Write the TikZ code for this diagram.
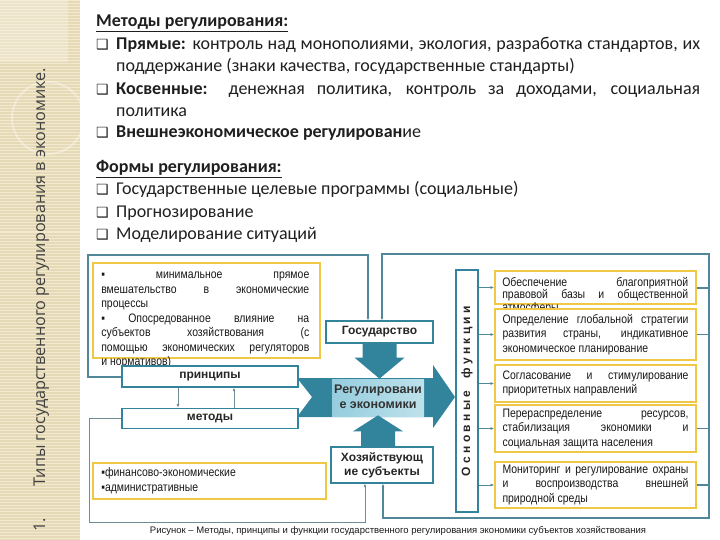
\documentclass[tikz,border=0pt]{standalone}
\usepackage{fontspec}
\setmainfont{Carlito}
\newfontfamily\arialfont{Liberation Sans}
\newfontfamily\narrowfont[FakeStretch=0.85]{Liberation Sans}
\newfontfamily\sidefont{Open Sans}
\newfontfamily\symfont{DejaVu Sans}
\usetikzlibrary{calc, positioning, arrows.meta}

\definecolor{tealdark}{RGB}{49,132,155}
\definecolor{teallight}{RGB}{190,226,236}
\definecolor{tealmid}{RGB}{150,205,222}
\definecolor{framegray}{RGB}{80,135,155}
\definecolor{thingray}{RGB}{110,140,150}
\definecolor{goldline}{RGB}{240,200,70}
\definecolor{stripbg}{RGB}{230,218,182}
\definecolor{stripline}{RGB}{241,233,208}

\newcommand{\chkbox}{\makebox[20pt][l]{\symfont\fontsize{14}{14}\selectfont ❑}}

\begin{document}
\begin{tikzpicture}
              [x=1pt, y=-1pt, node distance=20pt,
               toptext/.style={anchor=base west, inner sep=0pt, text=black!88, font=\fontsize{18}{20}\selectfont},
               box/.style={draw=tealdark, line width=1.3pt, fill=white, inner sep=0pt, align=center, text=black!85, font=\arialfont\bfseries\fontsize{12}{14}\selectfont},
               note/.style={draw=goldline, line width=1.8pt, fill=white, inner sep=0pt},
               notetext/.style={inner sep=0pt, text width=#1, align=justify, text=black!90, font=\narrowfont\fontsize{12.3}{14.5}\selectfont},
               frame/.style={draw=framegray, line width=1.5pt},
               thinframe/.style={draw=thingray, line width=0.8pt},
               tip/.style={-{Latex[length=3.5pt,width=3pt]}}]
              \useasboundingbox (0,0) rectangle (720,540);

              % side strip %
              \fill[stripbg] (0,0) rectangle (80,540);
              \foreach \y in {1,4,...,540}
                \draw[stripline, line width=1pt] (0,\y) -- (80,\y);
              \fill[white, opacity=0.25] (0,0) rectangle (68,62);
              \draw[white, opacity=0.35, line width=2pt] (48,118) circle (36);
              \node[anchor=base west, rotate=90, inner sep=0pt, text=black!75, font=\sidefont\fontsize{16.2}{17}\selectfont] (side) at (45,532)
                {1.\hspace{32pt}Типы государственного регулирования в экономике.};

              % top text %
              \node[toptext] (t1) at (96,27) {\textbf{\underline{Методы регулирования:}}};
              \node[toptext] (t2) at (96,50) {\chkbox\makebox[584pt][s]{\textbf{Прямые:} контроль над монополиями, экология, разработка стандартов, их}};
              \node[toptext] (t3) at (116,72) {поддержание (знаки качества, государственные стандарты)};
              \node[toptext] (t4) at (96,95) {\chkbox\makebox[584pt][s]{\textbf{Косвенные:} денежная политика, контроль за доходами, социальная}};
              \node[toptext] (t5) at (116,117) {политика};
              \node[toptext] (t6) at (96,138) {\chkbox\textbf{Внешнеэкономическое регулирован}ие};
              \node[toptext] (t7) at (96,173) {\textbf{\underline{Формы регулирования:}}};
              \node[toptext] (t8) at (96,195) {\chkbox Государственные целевые программы (социальные)};
              \node[toptext] (t9) at (96,218) {\chkbox Прогнозирование};
              \node[toptext] (t10) at (96,240) {\chkbox Моделирование ситуаций};

              % nodes %
              \node[note, minimum width=227pt, minimum height=95pt] (nb1) at (206.5,310.5) {};
              \node[notetext=208pt, anchor=north west] (nb1t) at ($(nb1.north west)+(9,10)$)
                {▪ минимальное прямое\linebreak вмешательство в экономические\linebreak процессы\par
                 ▪ Опосредованное влияние на\linebreak субъектов хозяйствования (с\linebreak помощью экономических регуляторов\linebreak и нормативов)};
              \node[box, minimum width=176pt, minimum height=21pt] (prin) at (210,376.5) {принципы};
              \node[box, minimum width=176pt, minimum height=20pt, below=20pt of prin] (met) {методы};
              \node[note, minimum width=233pt, minimum height=36pt] (nb2) at (209.5,481) {};
              \node[notetext=220pt, anchor=west, align=left] (nb2t) at ($(nb2.west)+(9,0)$)
                {▪финансово-экономические\\▪административные};

              % regulation arrow %
              \fill[tealdark] (297,378) -- (433,378) -- (433,365) -- (455,397) -- (433,428) -- (433,417)
                -- (297,417) -- (312,397) -- cycle;
              \shade[left color=tealmid, right color=teallight] (332,379) rectangle (424,416);
              \node[align=center, inner sep=0pt, text=black!80, font=\arialfont\bfseries\fontsize{12.5}{15}\selectfont] (reg) at (378,397)
                {Регулировани\\е экономики};

              \node[box, minimum width=107pt, minimum height=22pt] (gos) at (379.5,332) {Государство};
              \node[box, minimum width=102pt, minimum height=36pt] (hoz) at (382,465) {Хозяйствующ\\ие субъекты};
              \fill[tealdark] ($(gos.south)+(-17,0)$) -- ($(gos.south)+(17,0)$) -- ($(gos.south)+(17,14)$)
                -- ($(gos.south)+(25,14)$) -- ($(gos.south)+(0,35)$) -- ($(gos.south)+(-25,14)$)
                -- ($(gos.south)+(-17,14)$) -- cycle;
              \fill[tealdark] ($(hoz.north)+(-21,0)$) -- ($(hoz.north)+(13,0)$) -- ($(hoz.north)+(13,-15)$)
                -- ($(hoz.north)+(21,-15)$) -- ($(hoz.north)+(-4,-31)$) -- ($(hoz.north)+(-29,-15)$)
                -- ($(hoz.north)+(-21,-15)$) -- cycle;

              \node[box, rotate=90, minimum width=242pt, minimum height=22pt, font=\arialfont\bfseries\fontsize{12}{14}\selectfont] (func) at (467,391)
                {О с н о в н ы е\hspace{12pt}ф у н к ц и и};

              \node[note, minimum width=201pt, minimum height=33pt] (f1) at (595.5,287.5) {};
              \node[notetext=186pt, anchor=north west, font=\narrowfont\fontsize{12.3}{12.5}\selectfont] (f1t) at ($(f1.north west)+(8,7)$)
                {Обеспечение благоприятной\linebreak правовой базы и общественной\linebreak атмосферы};
              \node[note, notetext=186pt, minimum width=201pt, minimum height=51pt, inner xsep=7.5pt] (f2) at (595.5,334.5)
                {Определение глобальной стратегии\linebreak развития страны, индикативное\linebreak экономическое планирование};
              \node[note, notetext=186pt, minimum width=201pt, minimum height=37pt, inner xsep=7.5pt] (f3) at (595.5,383.5)
                {Согласование и стимулирование\linebreak приоритетных направлений};
              \node[note, notetext=186pt, minimum width=201pt, minimum height=47pt, inner xsep=7.5pt] (f4) at (595.5,428.5)
                {Перераспределение ресурсов,\linebreak стабилизация экономики и\linebreak социальная защита населения};
              \node[note, notetext=186pt, minimum width=201pt, minimum height=46pt, inner xsep=7.5pt] (f5) at (595.5,485)
                {Мониторинг и регулирование охраны\linebreak и воспроизводства внешней\linebreak природной среды};

              \node[inner sep=0pt, text=black!90, font=\arialfont\fontsize{9.5}{11}\selectfont] (caption) at (398,531)
                {Рисунок – Методы, принципы и функции государственного регулирования экономики субъектов хозяйствования};

              % frame corners %
              \coordinate (ltl) at (88,255);
              \coordinate (ltr) at (368,255);
              \coordinate (rtl) at (382,254);
              \coordinate (rtr) at (709,254);
              \coordinate (rbr) at (709,518);
              \coordinate (rbl) at (383,518);
              \coordinate (lbl) at (89,522);
              \coordinate (lbr) at (365,522);

              % edges %
              \draw[frame, line width=2pt, tip] (prin.west) -| (ltl) -- (ltr) -- (ltr |- gos.north);
              \draw[frame, {Latex[length=3.5pt,width=3pt]}-{Latex[length=3.5pt,width=3pt]}]
                (rtl |- gos.north) -- (rtl) -- (rtr) -- (rbr) -- (rbl) -- (rbl |- hoz.south);
              \draw[thinframe, tip] (met.west) -| (lbl) -- (lbr) -- (lbr |- hoz.south);
              \draw[thinframe, tip] ([xshift=-32pt]prin.south) -- ([xshift=-32pt]met.north);
              \draw[thinframe, tip] ([xshift=24pt]met.north) -- ([xshift=24pt]prin.south);
              \foreach \i in {1,...,5}
                \draw[thinframe, draw=framegray, tip] (func.south |- f\i.west) -- (f\i.west);
              \draw[frame, line width=2pt] (f1.east) -- (f1.east -| rtr);
              \draw[frame, line width=1pt] (f2.east) -- (f2.east -| rtr);
              \draw[frame, line width=1pt] (f4.east) -- (f4.east -| rtr);
              \draw[frame, line width=2pt] (f5.east) -- (f5.east -| rtr);
            \end{tikzpicture}
\end{document}
